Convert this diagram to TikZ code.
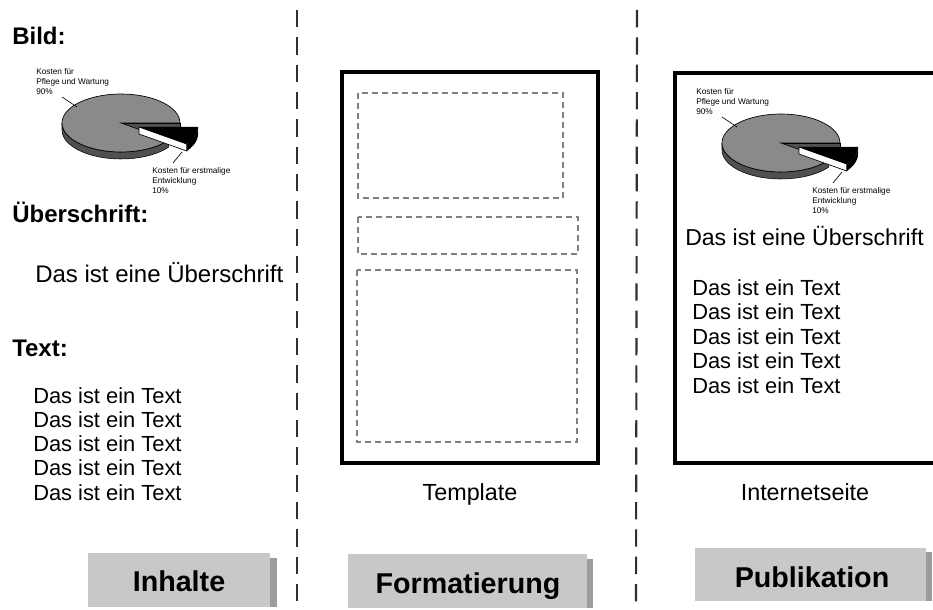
\documentclass[tikz,border=0pt]{standalone}
\usepackage{fontspec}
\setmainfont{Liberation Sans}
\definecolor{pietop}{HTML}{8A8A8A}
\definecolor{pieside}{HTML}{505050}
\definecolor{boxgray}{HTML}{C8C8C8}
\definecolor{boxshadow}{HTML}{9C9C9C}
\definecolor{sepline}{HTML}{303030}
\definecolor{dashgray}{HTML}{808080}
\tikzset{
  head/.style={font=\bfseries\fontsize{18}{20}\selectfont, anchor=base west, inner sep=0pt},
  body/.style={font=\fontsize{16.4}{20}\selectfont, anchor=base west, inner sep=0pt},
  over/.style={font=\fontsize{18}{20}\selectfont, anchor=base west, inner sep=0pt},
  overr/.style={font=\fontsize{17.3}{20}\selectfont, anchor=base west, inner sep=0pt},
  capt/.style={font=\fontsize{17.5}{20}\selectfont, anchor=base, inner sep=0pt},
  lab/.style={font=\bfseries\fontsize{21.5}{24}\selectfont, anchor=base, inner sep=0pt},
  tiny/.style={font=\fontsize{6.2}{7.5}\selectfont, align=left, inner sep=0pt, anchor=north west},
  sep/.style={draw=sepline, line width=1.6pt, dash pattern=on 13pt off 7.5pt},
  page/.style={draw=black, line width=2.3pt},
  slot/.style={draw=dashgray, line width=0.9pt, dash pattern=on 4.5pt off 3pt},
  graybox/.style={fill=boxgray},
  shadowbox/.style={fill=boxshadow},
}
\newcommand\mypiechart[3]{%
  \begin{scope}[shift={(#1,#2)}]
    % main piece side wall
    \fill[pieside, draw=black, line width=0.4pt]
      plot[domain=180:324, samples=40] ({59*cos(\x)},{-29*sin(\x)})
      -- plot[domain=324:180, samples=40] ({59*cos(\x)},{-29*sin(\x)+7}) -- cycle;
    \fill[pieside, draw=black, line width=0.4pt] (0,0) -- (59,0) -- (59,7) -- (0,7) -- cycle;
    % main piece top
    \fill[pietop, draw=black, line width=0.5pt]
      (0,0) -- plot[domain=0:324, samples=60] ({59*cos(\x)},{-29*sin(\x)}) -- cycle;
    % exploded piece
    \begin{scope}[shift={(18,4)}]
      \fill[black]
        plot[domain=-36:0, samples=20] ({59*cos(\x)},{-29*sin(\x)})
        -- plot[domain=0:-36, samples=20] ({59*cos(\x)},{-29*sin(\x)+7}) -- cycle;
      \fill[white, draw=black, line width=0.5pt]
        (0,0) -- ({59*cos(-36)},{-29*sin(-36)}) -- ({59*cos(-36)},{-29*sin(-36)+7}) -- (0,7) -- cycle;
      \fill[black] (0,0) -- plot[domain=-36:0, samples=20] ({59*cos(\x)},{-29*sin(\x)}) -- cycle;
    \end{scope}
    % labels and leaders
    \node[tiny] (#3a) at (-85,-55) {Kosten für\\Pflege und Wartung\\90\%};
    \node[tiny] (#3b) at (31,44) {Kosten für erstmalige\\Entwicklung\\10\%};
    \coordinate (#3la) at (-59,-26);
    \coordinate (#3lb) at (-44,-16);
    \coordinate (#3lc) at (61,29);
    \coordinate (#3ld) at (52,40);
    \draw[line width=0.5pt] (#3la) -- (#3lb);
    \draw[line width=0.5pt] (#3lc) -- (#3ld);
  \end{scope}}
\begin{document}
\begin{tikzpicture}[x=0.75pt, y=-0.75pt]
  \clip (0,0) rectangle (933,610);
  \fill[white] (0,0) rectangle (933,610);

  % separators
  \coordinate (s1t) at (297,10);
  \coordinate (s1b) at (297,610);
  \coordinate (s2t) at (637,10);
  \coordinate (s2b) at (636,610);
  \draw[sep] (s1t) -- (s1b);
  \draw[sep] (s2t) -- (s2b);

  % ---- left column: Inhalte
  \node[head] (bild) at (12,45) {Bild:};
  \mypiechart{121}{123}{pl}
  \node[head] (ueb) at (12,223) {Überschrift:};
  \node[over] (uebt) at (35,282) {Das ist eine Überschrift};
  \node[head] (txt) at (12,356) {Text:};
  \foreach \i in {0,...,4} {
    \node[body] (lt\i) at (33,{403+24.3*\i}) {Das ist ein Text};
  }

  % ---- middle column: template
  \draw[page] (342,72) rectangle (598,463);
  \draw[slot] (358,93) rectangle (563,198);
  \draw[slot] (358,217) rectangle (578,254);
  \draw[slot] (357,270) rectangle (577,442);
  \node[capt] (tmpl) at (470,500) {Template};

  % ---- right column: Internetseite
  \draw[page] (675,73) rectangle (945,463);
  \mypiechart{781}{143}{pr}
  \node[overr] (ruebt) at (685,245) {Das ist eine Überschrift};
  \foreach \i in {0,...,4} {
    \node[body] (rt\i) at (692,{295+24.5*\i}) {Das ist ein Text};
  }
  \node[capt] (inet) at (805,500) {Internetseite};

  % ---- labels
  \fill[shadowbox] (268,558) rectangle (277,607);
  \fill[graybox] (88,553) rectangle (270,607);
  \node[lab] (inh) at (179,591) {Inhalte};

  \fill[shadowbox] (585,559) rectangle (593,608);
  \fill[graybox] (348,554) rectangle (587,608);
  \node[lab] (form) at (468,593) {Formatierung};

  \fill[shadowbox] (924,552) rectangle (932,601);
  \fill[graybox] (695,548) rectangle (926,601);
  \node[lab] (pub) at (812,587) {Publikation};
\end{tikzpicture}
\end{document}
